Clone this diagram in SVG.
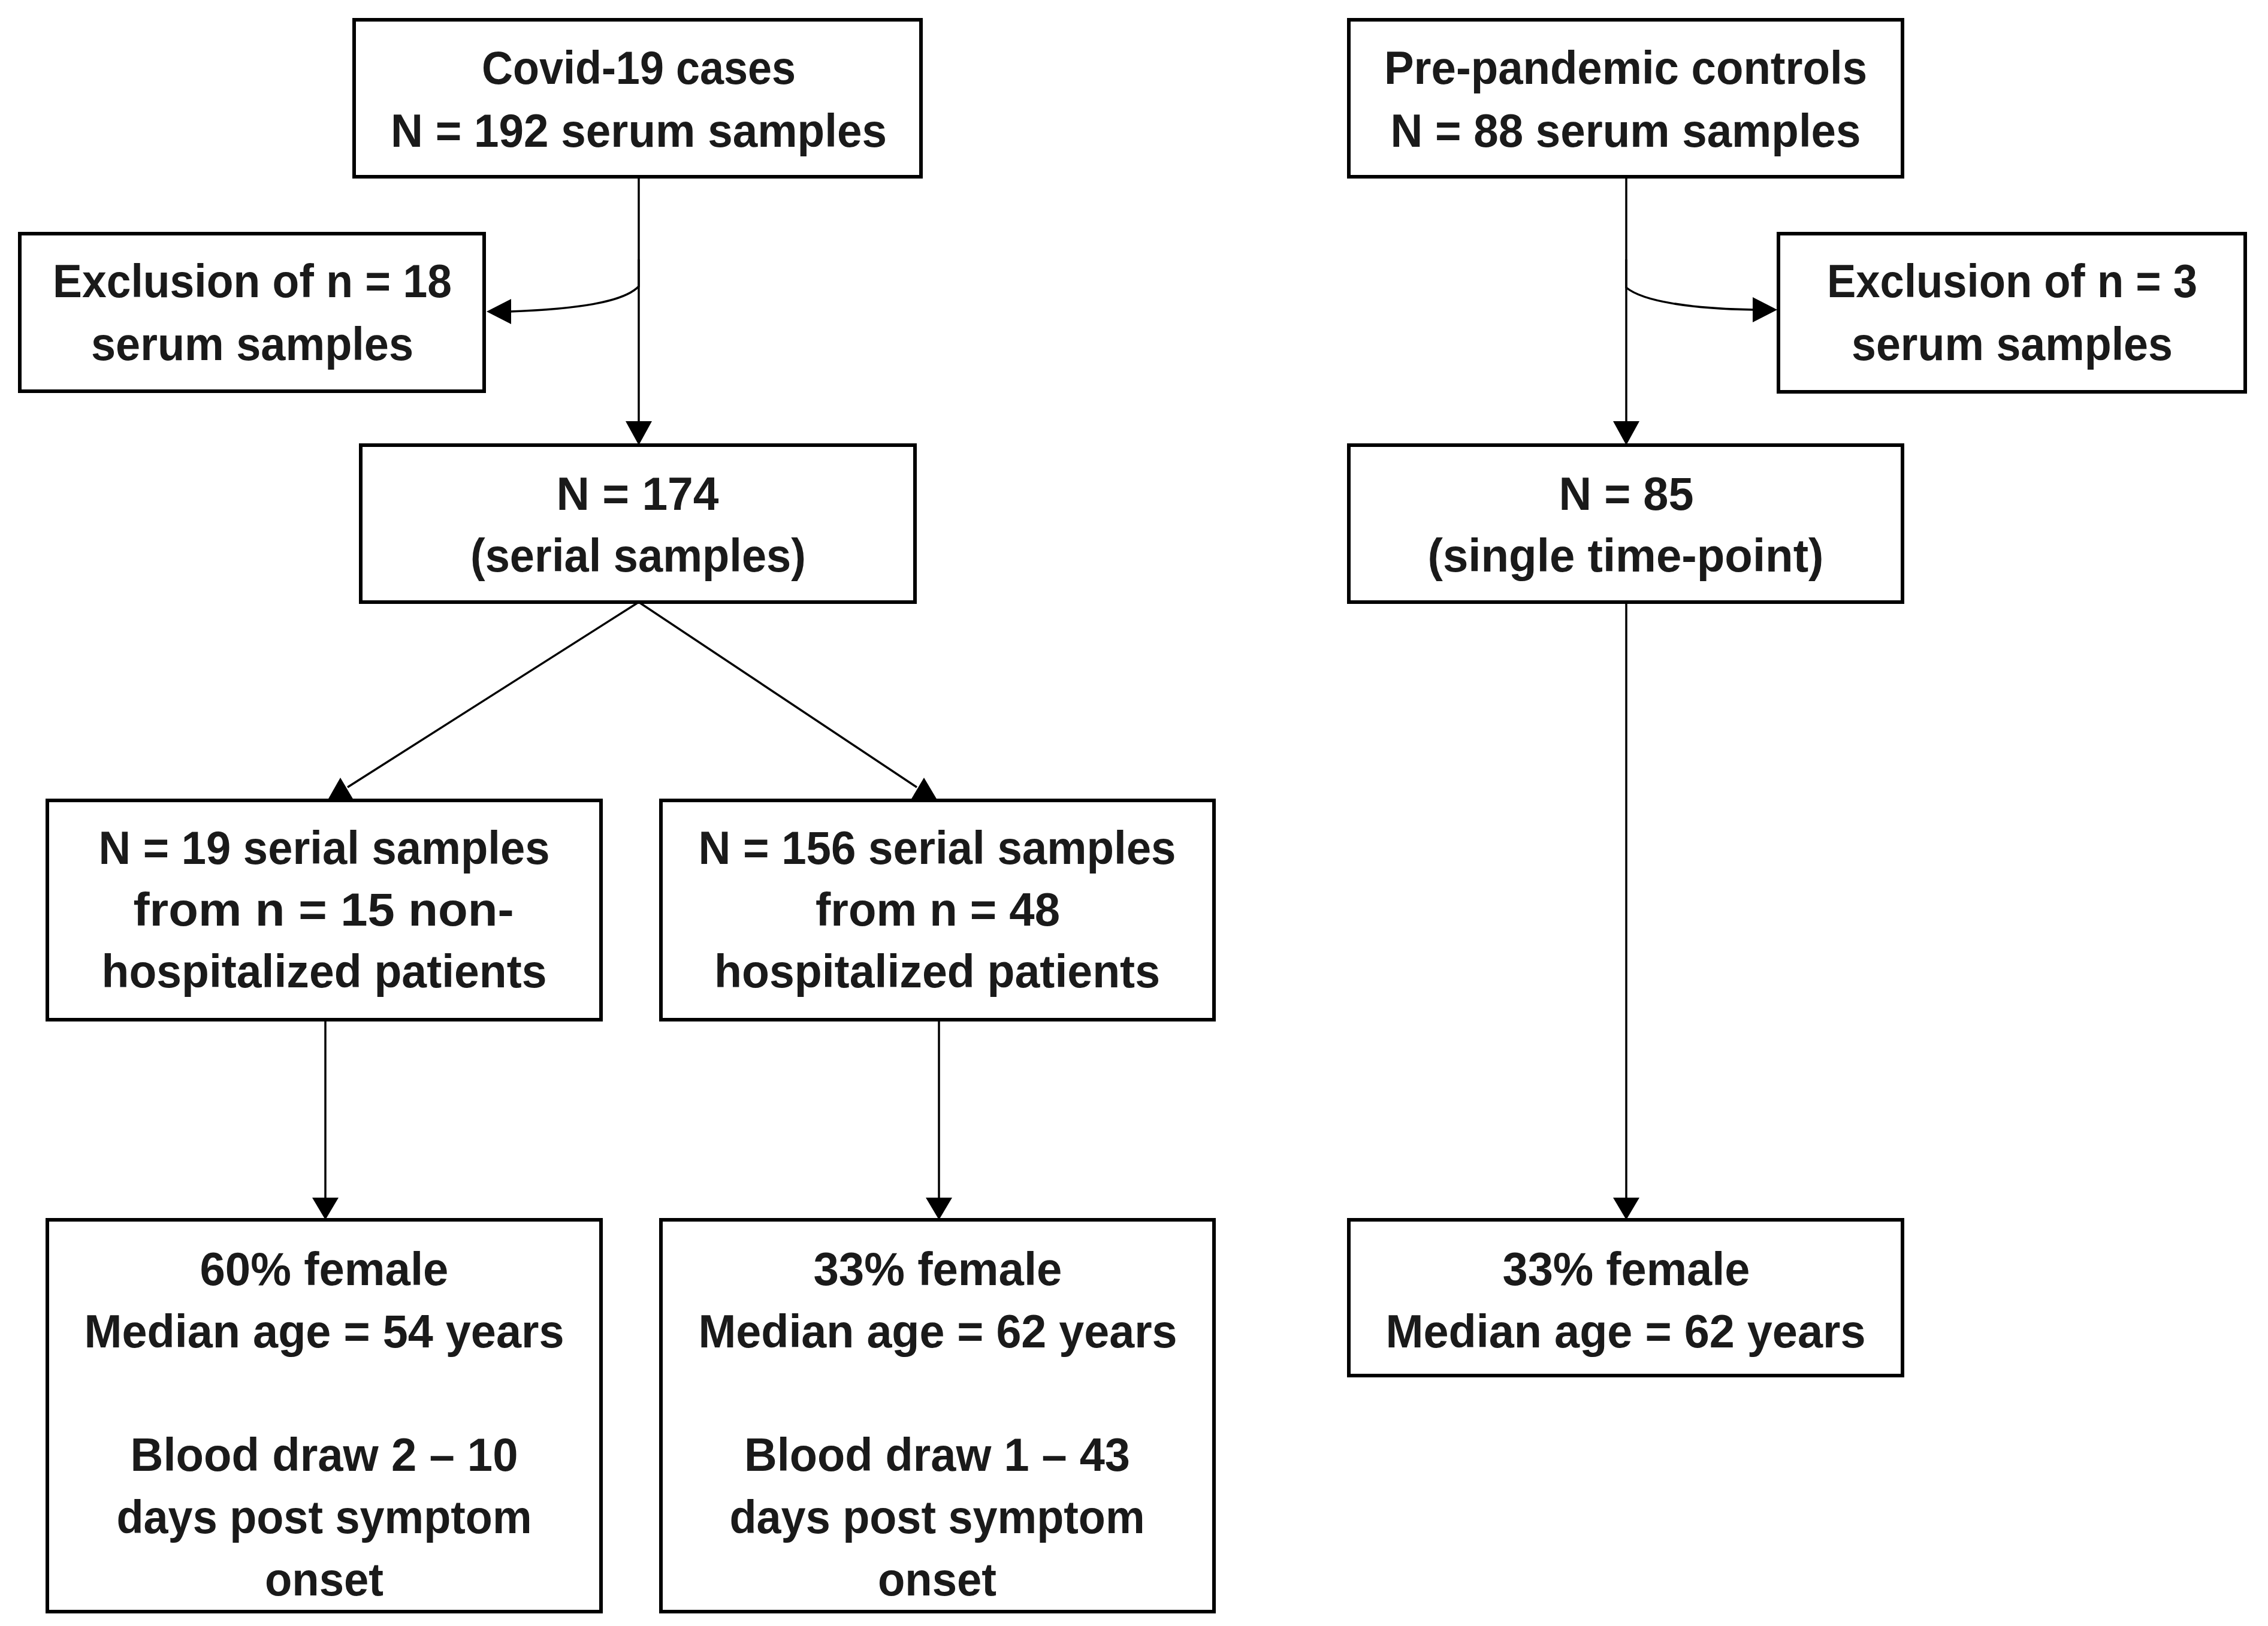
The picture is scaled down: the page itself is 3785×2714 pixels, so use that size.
<svg xmlns="http://www.w3.org/2000/svg" width="3785" height="2714" viewBox="0 0 3785 2714">
<style>
.box{fill:#fff;stroke:#000;stroke-width:6}
.t{font-family:"Liberation Sans",Arial,sans-serif;font-weight:bold;font-size:78px;fill:#1a1a1a;text-anchor:middle}
.c{fill:none;stroke:#000;stroke-width:3.5}
.ah{fill:#000}
</style>
<rect width="3785" height="2714" fill="#fff"/>
<g id="connectors">
<line class="c" x1="1066" y1="295" x2="1066" y2="706"/>
<polygon class="ah" points="1044,703 1088,703 1066,743"/>
<path class="c" d="M1066,433 L1066,478 C1040,505 960,516 851,520"/>
<polygon class="ah" points="812,520 853,499 853,541"/>
<line class="c" x1="2714" y1="295" x2="2714" y2="706"/>
<polygon class="ah" points="2692,703 2736,703 2714,743"/>
<path class="c" d="M2714,433 L2714,480 C2742,503 2820,515 2927,517"/>
<polygon class="ah" points="2966,517 2925,496 2925,538"/>
<line class="c" x1="1066" y1="1005" x2="580" y2="1314"/>
<polygon class="ah" points="568,1298 547,1335 590,1335"/>
<line class="c" x1="1066" y1="1005" x2="1530" y2="1314"/>
<polygon class="ah" points="1542,1298 1520,1335 1564,1335"/>
<line class="c" x1="543" y1="1702" x2="543" y2="2002"/>
<polygon class="ah" points="521,1999 565,1999 543,2036"/>
<line class="c" x1="1567" y1="1702" x2="1567" y2="2002"/>
<polygon class="ah" points="1545,1999 1589,1999 1567,2036"/>
<line class="c" x1="2714" y1="1005" x2="2714" y2="2002"/>
<polygon class="ah" points="2692,1999 2736,1999 2714,2036"/>
</g>
<g id="covid-cases">
<rect class="box" x="591" y="33" width="946" height="262"/>
<text class="t" x="1066" y="140" textLength="524" lengthAdjust="spacingAndGlyphs">Covid-19 cases</text>
<text class="t" x="1066" y="245" textLength="828" lengthAdjust="spacingAndGlyphs">N = 192 serum samples</text>
</g>
<g id="prepandemic-controls">
<rect class="box" x="2251" y="33" width="924" height="262"/>
<text class="t" x="2713" y="140" textLength="806" lengthAdjust="spacingAndGlyphs">Pre-pandemic controls</text>
<text class="t" x="2713" y="245" textLength="785" lengthAdjust="spacingAndGlyphs">N = 88 serum samples</text>
</g>
<g id="exclusion-18">
<rect class="box" x="33" y="390" width="775" height="263"/>
<text class="t" x="421" y="496" textLength="666" lengthAdjust="spacingAndGlyphs">Exclusion of n = 18</text>
<text class="t" x="421" y="601" textLength="538" lengthAdjust="spacingAndGlyphs">serum samples</text>
</g>
<g id="exclusion-3">
<rect class="box" x="2968" y="390" width="779" height="264"/>
<text class="t" x="3358" y="496" textLength="618" lengthAdjust="spacingAndGlyphs">Exclusion of n = 3</text>
<text class="t" x="3358" y="601" textLength="536" lengthAdjust="spacingAndGlyphs">serum samples</text>
</g>
<g id="n174">
<rect class="box" x="602" y="743" width="925" height="262"/>
<text class="t" x="1064" y="851" textLength="271" lengthAdjust="spacingAndGlyphs">N = 174</text>
<text class="t" x="1065" y="954" textLength="560" lengthAdjust="spacingAndGlyphs">(serial samples)</text>
</g>
<g id="n85">
<rect class="box" x="2251" y="743" width="924" height="262"/>
<text class="t" x="2714" y="851" textLength="225" lengthAdjust="spacingAndGlyphs">N = 85</text>
<text class="t" x="2713" y="954" textLength="661" lengthAdjust="spacingAndGlyphs">(single time-point)</text>
</g>
<g id="n19">
<rect class="box" x="79" y="1336" width="924" height="366"/>
<text class="t" x="541" y="1442" textLength="753" lengthAdjust="spacingAndGlyphs">N = 19 serial samples</text>
<text class="t" x="540" y="1545" textLength="635" lengthAdjust="spacingAndGlyphs">from n = 15 non-</text>
<text class="t" x="541" y="1648" textLength="743" lengthAdjust="spacingAndGlyphs">hospitalized patients</text>
</g>
<g id="n156">
<rect class="box" x="1103" y="1336" width="923" height="366"/>
<text class="t" x="1564" y="1442" textLength="797" lengthAdjust="spacingAndGlyphs">N = 156 serial samples</text>
<text class="t" x="1565" y="1545" textLength="408" lengthAdjust="spacingAndGlyphs">from n = 48</text>
<text class="t" x="1564" y="1648" textLength="744" lengthAdjust="spacingAndGlyphs">hospitalized patients</text>
</g>
<g id="nonhosp-demographics">
<rect class="box" x="79" y="2036" width="924" height="654"/>
<text class="t" x="541" y="2145" textLength="415" lengthAdjust="spacingAndGlyphs">60% female</text>
<text class="t" x="541" y="2249" textLength="801" lengthAdjust="spacingAndGlyphs">Median age = 54 years</text>
<text class="t" x="541" y="2455" textLength="647" lengthAdjust="spacingAndGlyphs">Blood draw 2 – 10</text>
<text class="t" x="541" y="2559" textLength="693" lengthAdjust="spacingAndGlyphs">days post symptom</text>
<text class="t" x="541" y="2663" textLength="198" lengthAdjust="spacingAndGlyphs">onset</text>
</g>
<g id="hosp-demographics">
<rect class="box" x="1103" y="2036" width="923" height="654"/>
<text class="t" x="1565" y="2145" textLength="415" lengthAdjust="spacingAndGlyphs">33% female</text>
<text class="t" x="1565" y="2249" textLength="799" lengthAdjust="spacingAndGlyphs">Median age = 62 years</text>
<text class="t" x="1564" y="2455" textLength="644" lengthAdjust="spacingAndGlyphs">Blood draw 1 – 43</text>
<text class="t" x="1564" y="2559" textLength="693" lengthAdjust="spacingAndGlyphs">days post symptom</text>
<text class="t" x="1564" y="2663" textLength="198" lengthAdjust="spacingAndGlyphs">onset</text>
</g>
<g id="control-demographics">
<rect class="box" x="2251" y="2036" width="924" height="260"/>
<text class="t" x="2714" y="2145" textLength="413" lengthAdjust="spacingAndGlyphs">33% female</text>
<text class="t" x="2713" y="2249" textLength="801" lengthAdjust="spacingAndGlyphs">Median age = 62 years</text>
</g>
</svg>
